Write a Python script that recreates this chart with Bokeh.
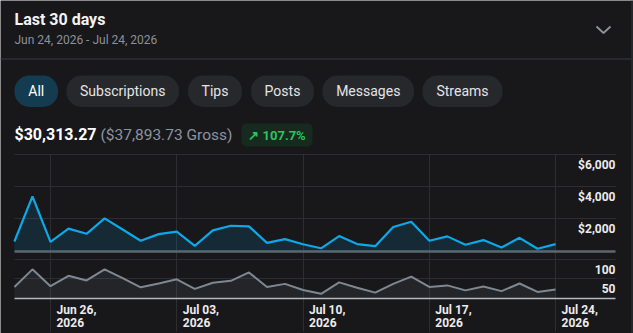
import pandas as pd
from bokeh.plotting import figure
from bokeh.models import Range1d, Grid, FixedTicker, BoxAnnotation, Label
from bokeh.core.properties import value
from bokeh.embed import file_html
from bokeh.resources import INLINE

# ---------------- data ----------------
dates = pd.date_range("2026-06-24", "2026-07-24", freq="D")
net_revenue = [600, 3400, 580, 1400, 1080, 2040, 1350, 650, 1060, 1210, 330,
               1290, 1580, 1540, 520, 750, 430, 180, 940, 440, 310, 1500,
               1830, 650, 920, 400, 690, 230, 830, 150, 440]
transactions = [29, 75, 31, 58, 46, 75, 52, 28, 38, 49, 24, 40, 45, 67, 29,
                37, 21, 11, 41, 27, 14, 37, 56, 29, 33, 20, 30, 18, 38, 16, 22]
rev_ticks = [2000, 4000, 6000]
rev_tick_labels = ["$2,000", "$4,000", "$6,000"]
cnt_ticks = [50, 100]
cnt_tick_labels = ["50", "100"]
x_tick_dates = pd.to_datetime(["2026-06-26", "2026-07-03", "2026-07-10",
                               "2026-07-17", "2026-07-24"])
x_tick_labels = ["Jun 26,\n2026", "Jul 03,\n2026", "Jul 10,\n2026",
                 "Jul 17,\n2026", "Jul 24,\n2026"]
tabs = ["All", "Subscriptions", "Tips", "Posts", "Messages", "Streams"]
title = "Last 30 days"
subtitle = "Jun 24, 2026 - Jul 24, 2026"
net_text = "$30,313.27"
gross_text = "($37,893.73 Gross)"
change_text = "\u2197 107.7%"

# ---------------- layout / style ----------------
W, H = 633, 333
BG = "#18181b"
GRID = "#2d2e32"
FONT = "Roboto"
PLOT_L, PLOT_R = 13.9, 615.0
DAY_PX = 18.04
REV0_PX, REV_TOP_PX, REV_TOP = 250.7, 154.0, 6000.0
CNT0_PX, CNT_TOP_PX, CNT_TOP = 297.5, 259.3, 100.0
GRID_BOTTOM_PX = 331.0

MS_DAY = 86400000.0
x_ms = [d.value / 1e6 for d in dates]
tick_ms = [d.value / 1e6 for d in x_tick_dates]
x0 = x_ms[0]


def date_at(px):
    return x0 + (px - PLOT_L) / DAY_PX * MS_DAY


REV_PER_PX = REV_TOP / (REV0_PX - REV_TOP_PX)
CNT_PER_PX = CNT_TOP / (CNT0_PX - CNT_TOP_PX)


def rev_at(px):
    return (REV0_PX - px) * REV_PER_PX


def cnt_at(px):
    return (CNT0_PX - px) * CNT_PER_PX


def Y(px):
    return H - px


p = figure(width=W, height=H, x_range=Range1d(0, W), y_range=Range1d(0, H),
           x_axis_type=None, y_axis_type=None, toolbar_location=None,
           output_backend="svg", min_border=0, background_fill_color=BG,
           border_fill_color=BG, outline_line_color=None)
p.extra_x_ranges = {"date": Range1d(date_at(0), date_at(W))}
p.extra_y_ranges = {"rev": Range1d(rev_at(H), rev_at(0)),
                    "cnt": Range1d(cnt_at(H), cnt_at(0))}

# ---------------- header ----------------
p.add_layout(Label(x=14, y=Y(18.5), text=title, text_baseline="middle",
                   text_font=FONT, text_font_style="bold", text_font_size="16px",
                   text_color="#f3f3f3"))
p.add_layout(Label(x=14, y=Y(39), text=subtitle, text_baseline="middle",
                   text_font=FONT, text_font_size="12px", text_color="#8b9198"))
p.line(x=[596, 603, 610], y=[Y(26), Y(32.5), Y(26)], line_color="#8d949b",
       line_width=1.8)
p.segment(x0=[0], y0=[Y(58.5)], x1=[631], y1=[Y(58.5)], line_color="#2e2f33",
          line_width=1.5)
p.segment(x0=[631.5], y0=[0], x1=[631.5], y1=[H], line_color="#2b2c30",
          line_width=1.5)

# tabs
pill_bounds = [(14, 57.5), (66, 178.5), (187.5, 241.5), (250.5, 313.5),
               (322, 413.5), (422, 502)]
for i, (name, (l, r)) in enumerate(zip(tabs, pill_bounds)):
    p.add_layout(BoxAnnotation(left=l, right=r, bottom=Y(106.5), top=Y(75),
                               fill_color="#133c50" if i == 0 else "#27282c",
                               fill_alpha=1, line_color=None, border_radius=15))
    p.add_layout(Label(x=(l + r) / 2, y=Y(90.5), text=name, text_align="center",
                       text_baseline="middle", text_font=FONT,
                       text_font_size="14px",
                       text_color="#ffffff" if i == 0 else "#e4e4e6"))

# totals
p.add_layout(Label(x=14, y=Y(134), text=net_text, text_baseline="middle",
                   text_font=FONT, text_font_style="bold", text_font_size="16px",
                   text_color="#ffffff"))
p.add_layout(Label(x=100, y=Y(134), text=gross_text, text_baseline="middle",
                   text_font=FONT, text_font_size="15.5px", text_color="#8a94a1"))
p.add_layout(BoxAnnotation(left=241, right=312, bottom=Y(146), top=Y(123),
                           fill_color="#172a1f", fill_alpha=1, line_color=None,
                           border_radius=5))
p.add_layout(Label(x=276.5, y=Y(134.5), text=change_text, text_align="center",
                   text_baseline="middle", text_font=FONT, text_font_style="bold",
                   text_font_size="13px", text_color="#2cc45c"))

# ---------------- chart grids ----------------
xb = (x0, date_at(PLOT_R))
p.add_layout(Grid(dimension=0, ticker=FixedTicker(ticks=tick_ms),
                  x_range_name="date", y_range_name="rev",
                  cross_bounds=(rev_at(GRID_BOTTOM_PX), REV_TOP),
                  grid_line_color=GRID, grid_line_width=1))
p.add_layout(Grid(dimension=1, ticker=FixedTicker(ticks=rev_ticks),
                  x_range_name="date", y_range_name="rev", cross_bounds=xb,
                  grid_line_color=GRID, grid_line_width=1))
p.add_layout(Grid(dimension=1, ticker=FixedTicker(ticks=cnt_ticks),
                  x_range_name="date", y_range_name="cnt", cross_bounds=xb,
                  grid_line_color=GRID, grid_line_width=1))
p.add_layout(Grid(dimension=1, ticker=FixedTicker(ticks=[0]),
                  x_range_name="date", y_range_name="rev", cross_bounds=xb,
                  grid_line_color="#5f666c", grid_line_width=2.5))
p.add_layout(Grid(dimension=1, ticker=FixedTicker(ticks=[0]),
                  x_range_name="date", y_range_name="cnt", cross_bounds=xb,
                  grid_line_color="#b5b9bd", grid_line_width=1.5))

# ---------------- series ----------------
p.varea(x=x_ms, y1=[0] * len(x_ms), y2=net_revenue, x_range_name="date",
        y_range_name="rev", fill_color="#0b9ad8", fill_alpha=0.14)
p.line(x=x_ms, y=net_revenue, x_range_name="date", y_range_name="rev",
       line_color="#0ea8e8", line_width=2.2)
p.varea(x=x_ms, y1=[0] * len(x_ms), y2=transactions, x_range_name="date",
        y_range_name="cnt", fill_color="#8a939b", fill_alpha=0.11)
p.line(x=x_ms, y=transactions, x_range_name="date", y_range_name="cnt",
       line_color="#7e8893", line_width=2)

# ---------------- tick labels ----------------
lab_x = date_at(PLOT_R)
p.text(x=[lab_x] * len(rev_ticks), y=[t - 10 * REV_PER_PX for t in rev_ticks],
       text=rev_tick_labels, x_range_name="date", y_range_name="rev",
       text_align="right", text_baseline="middle", text_font=value(FONT),
       text_font_style="bold", text_font_size="12px", text_color="#ececec")
p.text(x=[lab_x] * len(cnt_ticks), y=[t - 9.5 * CNT_PER_PX for t in cnt_ticks],
       text=cnt_tick_labels, x_range_name="date", y_range_name="cnt",
       text_align="right", text_baseline="middle", text_font=value(FONT),
       text_font_style="bold", text_font_size="12px", text_color="#ececec")
p.text(x=tick_ms, y=[cnt_at(302.5)] * len(tick_ms), text=x_tick_labels,
       x_offset=6, x_range_name="date", y_range_name="cnt",
       text_align="left", text_baseline="top", text_line_height=0.92,
       text_font=value(FONT), text_font_style="bold", text_font_size="12px",
       text_color="#ececec")

open("out.html", "w").write(file_html(p, INLINE))
